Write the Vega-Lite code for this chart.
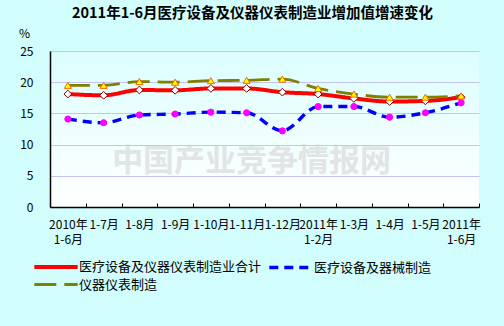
{
  "$schema": "https://vega.github.io/schema/vega-lite/v6.json",
  "width": 429,
  "height": 156,
  "autosize": {"type": "none"},
  "padding": {"left": 50, "top": 51, "right": 25, "bottom": 119},
  "background": "#d2fdfd",
  "title": {
    "text": "2011年1-6月医疗设备及仪器仪表制造业增加值增速变化",
    "font": "Noto Sans CJK SC",
    "fontSize": 14.5,
    "fontWeight": "bold",
    "color": "#000000",
    "anchor": "middle",
    "dx": -12,
    "offset": 6
  },
  "config": {
    "view": {
      "stroke": null,
      "fill": {"gradient": "linear", "x1": 0, "y1": 0, "x2": 0, "y2": 1, "stops": [{"offset": 0, "color": "#dcfefe"}, {"offset": 1, "color": "#ffffff"}]}
    },
    "axis": {"labelFont": "Noto Sans CJK SC", "labelFontSize": 12, "labelColor": "#000000", "titleFont": "Noto Sans CJK SC"},
    "legend": {"labelFont": "Noto Sans CJK SC", "labelFontSize": 13, "labelColor": "#000000"}
  },
  "datasets": {
    "rows": [
      {"cat": "2010年|1-6月", "series": "医疗设备及仪器仪表制造业合计", "value": 18.1},
      {"cat": "1-7月", "series": "医疗设备及仪器仪表制造业合计", "value": 17.9},
      {"cat": "1-8月", "series": "医疗设备及仪器仪表制造业合计", "value": 18.75},
      {"cat": "1-9月", "series": "医疗设备及仪器仪表制造业合计", "value": 18.7},
      {"cat": "1-10月", "series": "医疗设备及仪器仪表制造业合计", "value": 19.0},
      {"cat": "1-11月", "series": "医疗设备及仪器仪表制造业合计", "value": 19.0},
      {"cat": "1-12月", "series": "医疗设备及仪器仪表制造业合计", "value": 18.4},
      {"cat": "2011年|1-2月", "series": "医疗设备及仪器仪表制造业合计", "value": 18.1},
      {"cat": "1-3月", "series": "医疗设备及仪器仪表制造业合计", "value": 17.4},
      {"cat": "1-4月", "series": "医疗设备及仪器仪表制造业合计", "value": 16.9},
      {"cat": "1-5月", "series": "医疗设备及仪器仪表制造业合计", "value": 17.0},
      {"cat": "2011年|1-6月", "series": "医疗设备及仪器仪表制造业合计", "value": 17.6},
      {"cat": "2010年|1-6月", "series": "医疗设备及器械制造", "value": 14.1},
      {"cat": "1-7月", "series": "医疗设备及器械制造", "value": 13.5},
      {"cat": "1-8月", "series": "医疗设备及器械制造", "value": 14.75},
      {"cat": "1-9月", "series": "医疗设备及器械制造", "value": 14.9},
      {"cat": "1-10月", "series": "医疗设备及器械制造", "value": 15.2},
      {"cat": "1-11月", "series": "医疗设备及器械制造", "value": 15.1},
      {"cat": "1-12月", "series": "医疗设备及器械制造", "value": 12.2},
      {"cat": "2011年|1-2月", "series": "医疗设备及器械制造", "value": 16.1},
      {"cat": "1-3月", "series": "医疗设备及器械制造", "value": 16.1},
      {"cat": "1-4月", "series": "医疗设备及器械制造", "value": 14.4},
      {"cat": "1-5月", "series": "医疗设备及器械制造", "value": 15.1},
      {"cat": "2011年|1-6月", "series": "医疗设备及器械制造", "value": 16.7},
      {"cat": "2010年|1-6月", "series": "仪器仪表制造", "value": 19.5},
      {"cat": "1-7月", "series": "仪器仪表制造", "value": 19.5},
      {"cat": "1-8月", "series": "仪器仪表制造", "value": 20.1},
      {"cat": "1-9月", "series": "仪器仪表制造", "value": 20.0},
      {"cat": "1-10月", "series": "仪器仪表制造", "value": 20.25},
      {"cat": "1-11月", "series": "仪器仪表制造", "value": 20.3},
      {"cat": "1-12月", "series": "仪器仪表制造", "value": 20.5},
      {"cat": "2011年|1-2月", "series": "仪器仪表制造", "value": 19.0},
      {"cat": "1-3月", "series": "仪器仪表制造", "value": 18.1},
      {"cat": "1-4月", "series": "仪器仪表制造", "value": 17.6},
      {"cat": "1-5月", "series": "仪器仪表制造", "value": 17.6},
      {"cat": "2011年|1-6月", "series": "仪器仪表制造", "value": 17.8}
    ],
    "watermark": [{"cat": "1-11月", "value": 7.2, "text": "中国产业竞争情报网"}]
  },
  "encoding": {
    "x": {
      "field": "cat",
      "type": "nominal",
      "sort": null,
      "scale": {"type": "band", "domain": ["2010年|1-6月", "1-7月", "1-8月", "1-9月", "1-10月", "1-11月", "1-12月", "2011年|1-2月", "1-3月", "1-4月", "1-5月", "2011年|1-6月"], "paddingInner": 0, "paddingOuter": 0},
      "axis": {
        "title": null,
        "labelAngle": 0,
        "labelExpr": "isString(datum.value) ? split(datum.value, '|') : ''",
        "labelLineHeight": 15,
        "labelPadding": 16,
        "labelBaseline": "top",
        "tickBand": "extent",
        "tickSize": -4,
        "tickColor": "#000000",
        "domainColor": "#000000",
        "domainWidth": 1.5,
        "grid": false
      }
    },
    "y": {
      "field": "value",
      "type": "quantitative",
      "scale": {"domain": [0, 25], "nice": false},
      "axis": {
        "values": [0, 5, 10, 15, 20, 25],
        "title": "%",
        "titleAngle": 0,
        "titleX": -26,
        "titleY": -18,
        "titleAlign": "center",
        "titleBaseline": "middle",
        "titleFontSize": 12,
        "titleFontWeight": "normal",
        "ticks": false,
        "labelPadding": 17,
        "domainColor": "#000000",
        "domainWidth": 1.5,
        "gridColor": "#c4c4f0",
        "gridWidth": 1.2,
        "gridOpacity": 1
      }
    }
  },
  "layer": [
    {
      "data": {"name": "watermark"},
      "mark": {"type": "text", "font": "Noto Sans CJK SC", "fontSize": 31, "fontWeight": "bold", "color": "#d4d4d4", "opacity": 0.6, "dx": 5},
      "encoding": {"text": {"field": "text"}}
    },
    {
      "data": {"name": "rows"},
      "mark": {"type": "line", "interpolate": "monotone"},
      "encoding": {
        "color": {
          "field": "series",
          "type": "nominal",
          "scale": {"domain": ["医疗设备及仪器仪表制造业合计", "医疗设备及器械制造", "仪器仪表制造"], "range": ["#ff0000", "#0000ff", "#808000"]},
          "legend": {
            "title": null,
            "orient": "none",
            "legendX": -3,
            "legendY": 207,
            "direction": "horizontal",
            "columns": 2,
            "symbolType": "M-3.1,0H3.1",
            "symbolSize": 196,
            "symbolStrokeWidth": 4,
            "labelOffset": 14,
            "labelLimit": 400,
            "columnPadding": 0,
            "rowPadding": 1
          }
        },
        "strokeDash": {
          "field": "series",
          "type": "nominal",
          "scale": {"domain": ["医疗设备及仪器仪表制造业合计", "医疗设备及器械制造", "仪器仪表制造"], "range": [[1, 0], [9, 6], [22, 8]]},
          "legend": null
        },
        "strokeWidth": {
          "field": "series",
          "type": "nominal",
          "scale": {"domain": ["医疗设备及仪器仪表制造业合计", "医疗设备及器械制造", "仪器仪表制造"], "range": [4, 2.8, 4]},
          "legend": null
        }
      }
    },
    {
      "data": {"name": "rows"},
      "transform": [{"filter": "datum.series === '医疗设备及仪器仪表制造业合计'"}],
      "mark": {"type": "point", "shape": "diamond", "filled": true, "fill": "#ffffff", "stroke": "#800000", "strokeWidth": 1, "size": 60, "opacity": 1}
    },
    {
      "data": {"name": "rows"},
      "transform": [{"filter": "datum.series === '医疗设备及器械制造'"}],
      "mark": {"type": "point", "shape": "circle", "filled": true, "fill": "#ff00ff", "stroke": "#ff00ff", "strokeWidth": 1, "size": 38, "opacity": 1}
    },
    {
      "data": {"name": "rows"},
      "transform": [{"filter": "datum.series === '仪器仪表制造'"}],
      "mark": {"type": "point", "shape": "triangle-up", "filled": true, "fill": "#ffff00", "stroke": "#ff6600", "strokeWidth": 1, "size": 50, "opacity": 1}
    }
  ]
}
